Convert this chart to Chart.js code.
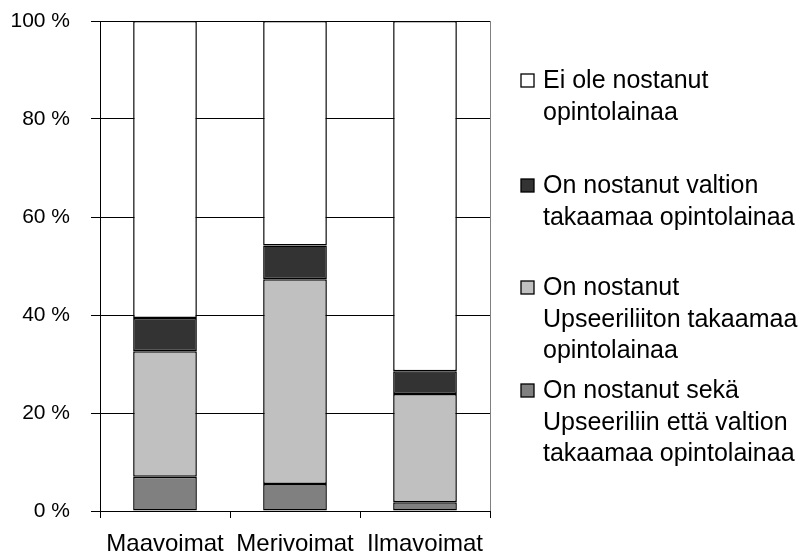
<!DOCTYPE html>
<html>
<head>
<meta charset="utf-8">
<script src="https://cdn.jsdelivr.net/npm/chart.js@4/dist/chart.umd.min.js"></script>
<style>
  html, body { margin: 0; padding: 0; background: #fff; }
  #wrap { width: 800px; height: 558px; position: relative; }
</style>
</head>
<body>
<div id="wrap"><canvas id="c"></canvas></div>
<script>
const categories = ['Maavoimat', 'Merivoimat', 'Ilmavoimat'];
const yTickValues = [0, 20, 40, 60, 80, 100];

const seriesLabels = [
  ['On nostanut sekä', 'Upseeriliin että valtion', 'takaamaa opintolainaa'],
  ['On nostanut', 'Upseeriliiton takaamaa', 'opintolainaa'],
  ['On nostanut valtion', 'takaamaa opintolainaa'],
  ['Ei ole nostanut', 'opintolainaa']
];
const sekaValues = [7.0, 5.5, 1.8];
const upseeriliittoValues = [25.6, 41.8, 22.1];
const valtioValues = [6.8, 6.9, 4.6];
const eiOleValues = [60.6, 45.8, 71.5];

const seriesColors = ['#808080', '#C0C0C0', '#333333', '#FFFFFF'];
const seriesValues = [sekaValues, upseeriliittoValues, valtioValues, eiOleValues];

const datasets = seriesValues.map((vals, i) => ({
  label: seriesLabels[i].join(' '),
  data: vals,
  backgroundColor: seriesColors[i],
  borderColor: '#000000',
  borderWidth: 1.5,
  borderSkipped: false,
  barPercentage: 0.49,
  categoryPercentage: 1.0
}));

const legendPlugin = {
  id: 'customLegend',
  afterDraw(chart) {
    const ctx = chart.ctx;
    const baselines = [88, 193, 295, 398]; // top to bottom legend entries
    const lineStep = 31.5;
    const order = [3, 2, 1, 0];
    ctx.save();
    ctx.font = '25px "Liberation Sans", Arial, sans-serif';
    ctx.textBaseline = 'alphabetic';
    order.forEach((dsIdx, k) => {
      const ds = chart.data.datasets[dsIdx];
      const base = baselines[k];
      ctx.fillStyle = ds.backgroundColor;
      ctx.fillRect(521, base - 14, 13, 13);
      ctx.strokeStyle = '#000';
      ctx.lineWidth = 1.3;
      ctx.strokeRect(521, base - 14, 13, 13);
      ctx.fillStyle = '#000';
      seriesLabels[dsIdx].forEach((line, j) => {
        ctx.fillText(line, 543, base + j * lineStep);
      });
    });
    ctx.restore();
  }
};

const frameRight = {
  id: 'frameRight',
  beforeDatasetsDraw(chart) {
    const a = chart.chartArea;
    const ctx = chart.ctx;
    ctx.save();
    ctx.strokeStyle = '#808080';
    ctx.lineWidth = 1;
    ctx.beginPath();
    ctx.moveTo(Math.round(a.right) + 0.5, a.top);
    ctx.lineTo(Math.round(a.right) + 0.5, a.bottom);
    ctx.stroke();
    ctx.restore();
  }
};

new Chart(document.getElementById('c'), {
  type: 'bar',
  data: { labels: categories, datasets },
  options: {
    responsive: true,
    maintainAspectRatio: false,
    animation: false,
    layout: { padding: { top: 21, right: 310, left: 0, bottom: 0 } },
    plugins: {
      legend: { display: false },
      tooltip: { enabled: false }
    },
    scales: {
      x: {
        stacked: true,
        afterFit(scale) { scale.height = 47; scale.paddingLeft = 0; scale.paddingRight = 0; },
        grid: {
          drawOnChartArea: false,
          drawTicks: true,
          tickLength: 7,
          color: '#000000',
          offset: true
        },
        border: { display: true, color: '#000000', width: 1 },
        ticks: {
          color: '#000000',
          padding: 12,
          maxRotation: 0,
          font: { family: '"Liberation Sans", Arial, sans-serif', size: 24 }
        }
      },
      y: {
        stacked: true,
        min: 0,
        max: 100,
        afterFit(scale) { scale.width = 100; scale.paddingTop = 0; scale.paddingBottom = 0; },
        afterBuildTicks(scale) { scale.ticks = yTickValues.map(v => ({ value: v })); },
        grid: {
          color: '#000000',
          lineWidth: 1,
          drawTicks: true,
          tickLength: 9
        },
        border: { display: true, color: '#000000', width: 1 },
        ticks: {
          color: '#000000',
          padding: 21,
          callback: (v) => v + ' %',
          font: { family: '"Liberation Sans", Arial, sans-serif', size: 21 }
        }
      }
    }
  },
  plugins: [legendPlugin, frameRight]
});
</script>
</body>
</html>
